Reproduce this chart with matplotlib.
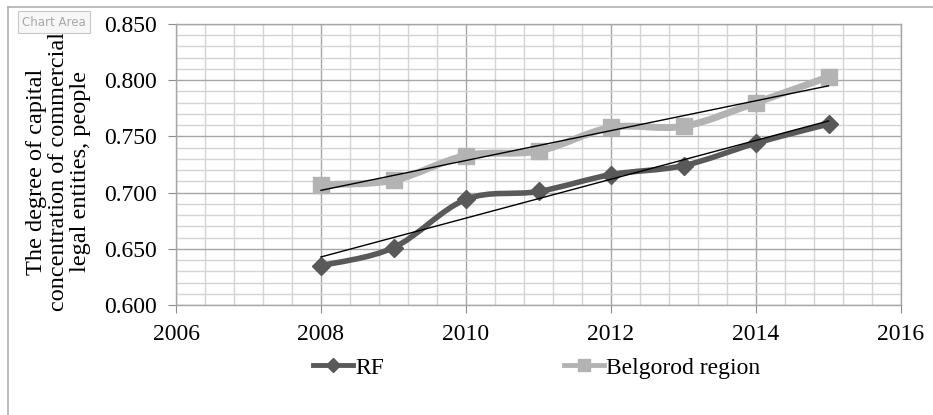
import numpy as np
import matplotlib
matplotlib.use("Agg")
import matplotlib.pyplot as plt
from matplotlib.path import Path
from matplotlib.patches import PathPatch
from matplotlib.lines import Line2D
from matplotlib.ticker import MultipleLocator

years = [2008, 2009, 2010, 2011, 2012, 2013, 2014, 2015]
rf = [0.635, 0.651, 0.694, 0.701, 0.716, 0.724, 0.744, 0.761]
belgorod = [0.707, 0.711, 0.733, 0.737, 0.758, 0.759, 0.780, 0.803]
series_names = ["RF", "Belgorod region"]
y_label = "The degree of capital\nconcentration of commercial\nlegal entities, people"

plt.rcParams["font.family"] = ["Liberation Serif", "DejaVu Serif"]


def smooth_path(x, y):
    # Excel-style smoothed line: Catmull-Rom segments as cubic Beziers
    x = np.asarray(x, float)
    y = np.asarray(y, float)
    pts = np.column_stack([x, y])
    verts = [pts[0]]
    codes = [Path.MOVETO]
    n = len(pts)
    for i in range(n - 1):
        p0 = pts[i - 1] if i > 0 else pts[i]
        p1 = pts[i]
        p2 = pts[i + 1]
        p3 = pts[i + 2] if i + 2 < n else pts[i + 1]
        c1 = p1 + (p2 - p0) / 6.0
        c2 = p2 - (p3 - p1) / 6.0
        verts += [c1, c2, p2]
        codes += [Path.CURVE4] * 3
    return Path(verts, codes)


fig = plt.figure(figsize=(9.33, 4.15), dpi=100)
ax = fig.add_axes([176 / 933, 1 - 305 / 415, 725 / 933, 281 / 415])

ax.set_xlim(2006, 2016)
ax.set_ylim(0.6, 0.85)
ax.xaxis.set_major_locator(MultipleLocator(2))
ax.xaxis.set_minor_locator(MultipleLocator(0.4))
ax.yaxis.set_major_locator(MultipleLocator(0.05))
ax.yaxis.set_minor_locator(MultipleLocator(0.01))
ax.yaxis.set_major_formatter(plt.FormatStrFormatter("%.3f"))

ax.grid(which="major", color="#a6a6a6", lw=1.0)
ax.grid(which="minor", color="#d4d4d4", lw=1.0)
ax.set_axisbelow(True)
for s in ax.spines.values():
    s.set_color("#a6a6a6")
    s.set_linewidth(1.0)
ax.tick_params(which="major", direction="out", length=6, color="#8c8c8c",
               labelsize=17, pad=8)
ax.tick_params(which="minor", length=0)

rf_color = "#595959"
bel_color = "#b3b3b3"

ax.add_patch(PathPatch(smooth_path(years, belgorod), fill=False, ec=bel_color,
                       lw=5, capstyle="round", joinstyle="round", zorder=3))
ax.plot(years, belgorod, ls="none", marker="s", ms=11, color=bel_color, zorder=4)

ax.add_patch(PathPatch(smooth_path(years, rf), fill=False, ec=rf_color,
                       lw=4, capstyle="round", joinstyle="round", zorder=5))
ax.plot(years, rf, ls="none", marker="D", ms=9, color=rf_color, zorder=6)

# linear trend lines
for vals in (rf, belgorod):
    k, b = np.polyfit(years, vals, 1)
    xs = np.array([years[0], years[-1]])
    ax.plot(xs, k * xs + b, color="black", lw=1.0, zorder=7)

ax.set_ylabel(y_label, fontsize=17.5, linespacing=1.08)
ax.yaxis.set_label_coords(-0.117, 0.475)

handles = [
    Line2D([], [], color=rf_color, lw=3.5, marker="D", ms=7),
    Line2D([], [], color=bel_color, lw=3.5, marker="s", ms=9),
]
fig.legend(handles, series_names, loc="center left", ncol=2, frameon=False,
           bbox_to_anchor=(313 / 933, 1 - 368 / 415), fontsize=17,
           handlelength=1.7, handletextpad=0.1, columnspacing=7.6,
           borderpad=0, borderaxespad=0)

# chart area border
fig.add_artist(Line2D([8 / 933, 8 / 933], [0, 1 - 7 / 415], color="#b0b0b0",
                      lw=1.2, transform=fig.transFigure))
fig.add_artist(Line2D([8 / 933, 1], [1 - 7 / 415, 1 - 7 / 415], color="#b0b0b0",
                      lw=1.2, transform=fig.transFigure))

fig.text(54 / 933, 1 - 22 / 415, "Chart Area", family="DejaVu Sans", fontsize=8.5,
         color="#a8a8a8", ha="center", va="center", zorder=10,
         bbox=dict(boxstyle="square,pad=0.35", fc="#f7f7f7", ec="#c8c8c8", lw=0.8))

fig.savefig("out.png", dpi=100)
